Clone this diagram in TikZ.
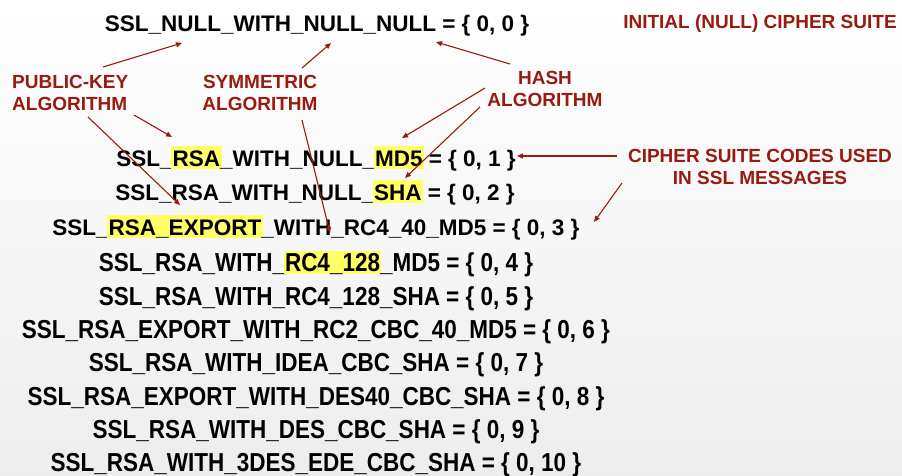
\documentclass[tikz,border=0pt]{standalone}
\usepackage{fontspec}
\setmainfont{Liberation Sans}
\usepackage{graphicx}
\usetikzlibrary{arrows.meta}

\definecolor{noteRed}{RGB}{153,27,16}
\definecolor{hlYellow}{RGB}{255,255,102}

\newcommand{\hlword}[1]{\kern-1.5pt\relax{\setlength{\fboxsep}{0pt}\colorbox{hlYellow}{\rule[-3pt]{0pt}{23pt}\kern1.5pt\relax#1\kern1.5pt\relax}}\kern-1.5pt\relax}
\newcommand{\narrowrow}[1]{\scalebox{0.865}[1]{#1}}

\begin{document}
\begin{tikzpicture}[x=1pt, y=-1pt,
  suite/.style = {anchor=base, inner sep=0pt, font=\fontsize{22.5}{27}\selectfont\bfseries},
  suitenarrow/.style = {anchor=base, inner sep=0pt, font=\fontsize{26}{30}\selectfont\bfseries},
  note/.style = {inner sep=0pt, text=noteRed, font=\fontsize{19}{22}\selectfont\bfseries},
  pointer/.style = {draw=noteRed, line width=1.1pt, -{Triangle[length=6pt, width=5pt]}}]

\shade[top color=white, bottom color=black!7] (0, 0) rectangle (902, 476);
\useasboundingbox (0, 0) rectangle (902, 476);

% cipher suites
\node[suite] (R0) at (317, 32) {SSL\_NULL\_WITH\_NULL\_NULL = \{ 0, 0 \}};
\node[suite] (R1) at (316, 166) {SSL\_\hlword{RSA}\_WITH\_NULL\_\hlword{MD5} = \{ 0, 1 \}};
\node[suite] (R2) at (315, 200) {SSL\_RSA\_WITH\_NULL\_\hlword{SHA} = \{ 0, 2 \}};
\node[suite] (R3) at (316, 235) {SSL\_\hlword{RSA\_EXPORT}\_WITH\_RC4\_40\_MD5 = \{ 0, 3 \}};

\node[suitenarrow] (R4) at (316, 271) {\narrowrow{SSL\_RSA\_WITH\_\hlword{RC4\_128}\_MD5 = \{ 0, 4 \}}};
\node[suitenarrow] (R5) at (316, 305) {\narrowrow{SSL\_RSA\_WITH\_RC4\_128\_SHA = \{ 0, 5 \}}};
\node[suitenarrow] (R6) at (316, 338) {\narrowrow{SSL\_RSA\_EXPORT\_WITH\_RC2\_CBC\_40\_MD5 = \{ 0, 6 \}}};
\node[suitenarrow] (R7) at (316, 371) {\narrowrow{SSL\_RSA\_WITH\_IDEA\_CBC\_SHA = \{ 0, 7 \}}};
\node[suitenarrow] (R8) at (316, 405) {\narrowrow{SSL\_RSA\_EXPORT\_WITH\_DES40\_CBC\_SHA = \{ 0, 8 \}}};
\node[suitenarrow] (R9) at (316, 438) {\narrowrow{SSL\_RSA\_WITH\_DES\_CBC\_SHA = \{ 0, 9 \}}};
\node[suitenarrow] (R10) at (316, 471) {\narrowrow{SSL\_RSA\_WITH\_3DES\_EDE\_CBC\_SHA = \{ 0, 10 \}}};

% notes
\node[note] (IN) at (760, 24) {INITIAL (NULL) CIPHER SUITE};
\node[note, anchor=west, align=left] (PK) at (12, 93) {PUBLIC-KEY\\ALGORITHM};
\node[note, align=center] (SY) at (260, 93) {SYMMETRIC\\ALGORITHM};
\node[note, align=center] (HA) at (545, 89) {HASH\\ALGORITHM};
\node[note, align=center] (CS) at (760, 167) {CIPHER SUITE CODES USED\\IN SSL MESSAGES};

% arrow ends
\coordinate (pk1) at (103, 67);
\coordinate (pk2) at (134, 115);
\coordinate (pk3) at (88, 117);
\coordinate (sy1) at (302, 68);
\coordinate (sy2) at (302, 120);
\coordinate (ha1) at (510, 64);
\coordinate (ha2) at (485, 88);
\coordinate (ha3) at (480, 107);
\coordinate (cs1) at (617, 156);
\coordinate (cs2) at (622, 183);

\coordinate (T0a) at (182, 43);
\coordinate (T0b) at (331, 43);
\coordinate (T0c) at (436, 42);
\coordinate (T1a) at (172, 137);
\coordinate (T1b) at (402, 138);
\coordinate (T1c) at (517, 156);
\coordinate (T2) at (405, 178);
\coordinate (T3a) at (180, 205);
\coordinate (T3b) at (330, 233);
\coordinate (T3c) at (594, 222);

\draw[pointer] (pk1) -- (T0a);
\draw[pointer] (pk2) -- (T1a);
\draw[pointer] (pk3) -- (T3a);
\draw[pointer] (sy1) -- (T0b);
\draw[pointer] (sy2) -- (T3b);
\draw[pointer] (ha1) -- (T0c);
\draw[pointer] (ha2) -- (T1b);
\draw[pointer] (ha3) -- (T2);
\draw[pointer] (cs1) -- (T1c);
\draw[pointer] (cs2) -- (T3c);

\end{tikzpicture}
\end{document}
